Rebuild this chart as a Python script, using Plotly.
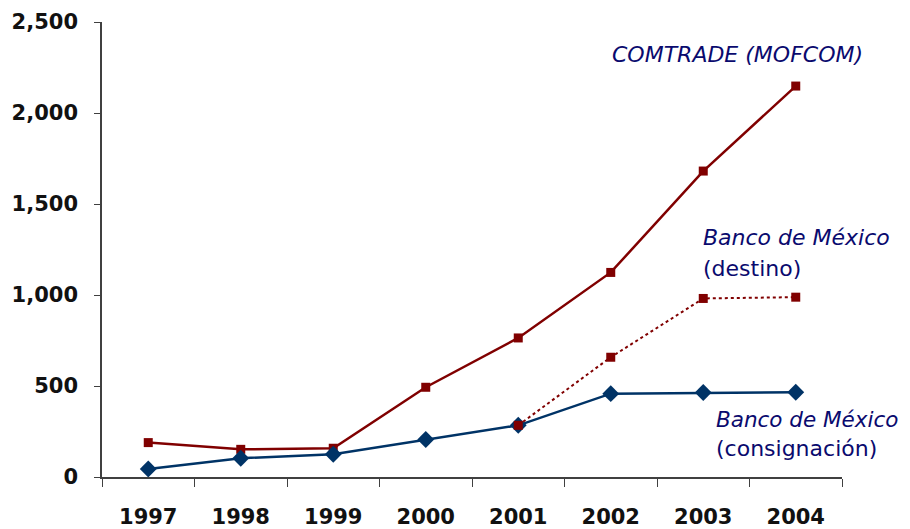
import plotly.graph_objects as go

years = ["1997", "1998", "1999", "2000", "2001", "2002", "2003", "2004"]
comtrade = [189, 152, 158, 493, 764, 1124, 1681, 2148]
destino_years = ["2001", "2002", "2003", "2004"]
destino = [284, 658, 981, 988]
consignacion = [44, 103, 125, 206, 284, 458, 464, 466]
y_ticks = [0, 500, 1000, 1500, 2000, 2500]
y_tick_labels = ["0", "500", "1,000", "1,500", "2,000", "2,500"]

RED = "#800000"
BLUE = "#003366"
NAVY = "#0a0a6e"
FONT = "DejaVu Sans"

fig = go.Figure()
fig.add_trace(go.Scatter(x=years, y=comtrade, mode="lines+markers",
                         line=dict(color=RED, width=2.5),
                         marker=dict(symbol="square", size=9, color=RED)))
fig.add_trace(go.Scatter(x=years, y=consignacion, mode="lines+markers",
                         line=dict(color=BLUE, width=2.5),
                         marker=dict(symbol="diamond", size=13, color=BLUE)))
fig.add_trace(go.Scatter(x=destino_years, y=destino, mode="lines+markers",
                         line=dict(color=RED, width=2, dash="dot"),
                         marker=dict(symbol="square", size=9, color=RED)))

def ann(text, x, y, italic=True, anchor="left", size=22):
    t = f"<i>{text}</i>" if italic else text
    fig.add_annotation(text=t, xref="paper", yref="paper", x=x, y=y,
                       xanchor=anchor, yanchor="middle", showarrow=False,
                       font=dict(family=FONT, size=size, color=NAVY))

ann("COMTRADE (MOFCOM)", 0.859, 0.929, anchor="center")
ann("Banco de México", 0.810, 0.527)
ann("(destino)", 0.810, 0.459, italic=False)
ann("Banco de México", 0.827, 0.127, size=21.5)
ann("(consignación)", 0.827, 0.063, italic=False)

fig.update_layout(
    width=902, height=521,
    margin=dict(l=94, r=68, t=14, b=52),
    paper_bgcolor="white", plot_bgcolor="white",
    showlegend=False,
    font=dict(family=FONT, size=22, color="#111111"),
)
fig.update_xaxes(type="category", range=[-0.5, 7.5], showgrid=False, zeroline=False,
                 automargin=False,
                 showline=True, linecolor="#404040", linewidth=1.5,
                 ticks="outside", tickson="boundaries", ticklen=8, tickcolor="#404040",
                 ticklabelstandoff=20,
                 tickfont=dict(family=FONT, size=21, color="#111111", weight="bold"))
fig.update_yaxes(range=[0, 2500], tickvals=y_ticks, ticktext=y_tick_labels,
                 showgrid=False, zeroline=False, automargin=False,
                 showline=True, linecolor="#404040", linewidth=1.5,
                 ticks="outside", ticklen=6, tickcolor="#404040",
                 ticklabelstandoff=12,
                 tickfont=dict(family=FONT, size=21, color="#111111", weight="bold"))

fig.write_html("out.html")
